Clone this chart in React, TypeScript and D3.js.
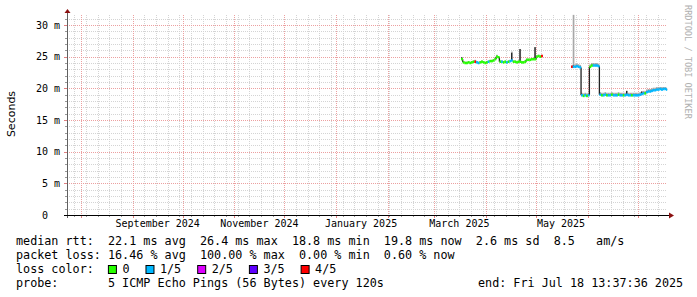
import React from 'react';
import * as d3 from 'd3';

// ---------- data ----------
const END_TIME = new Date(2025, 6, 18, 13, 37, 36);
const SPAN_DAYS = 360;
const Y_UPPER = 31.58; // ms

const yTicks = [0, 5, 10, 15, 20, 25, 30];
const yTickLabels = ['0', '5 m', '10 m', '15 m', '20 m', '25 m', '30 m'];
const monthLabelDates = [new Date(2024, 8, 1), new Date(2024, 10, 1), new Date(2025, 0, 1), new Date(2025, 2, 1), new Date(2025, 4, 1)];
const monthLabels = ['September 2024', 'November 2024', 'January 2025', 'March 2025', 'May 2025'];

// segment 1: daily from 2025-03-17
const seg1Start = new Date(2025, 2, 17);
const seg1Median = [
  24.6, 24.1, 24.0, 24.0, 24.1, 24.0, 24.1, 24.2, 24.2, 24.1, 24.0, 24.1, 24.2, 24.1, 24.0,
  24.1, 24.2, 24.3, 24.3, 24.4, 24.6, 25.0, 24.9, 24.2, 24.2, 24.1, 24.2, 24.1, 24.2, 24.3,
  24.4, 24.2, 24.2, 24.1, 24.2, 24.2, 24.1, 24.1, 24.2, 24.5, 24.5, 24.5, 24.6, 24.6, 24.6,
  25.0, 25.1, 25.0, 25.1,
];
const seg1Loss = [
  0, 0, 0, 0, 0, 0, 0, 0, 4, 1, 1, 0, 0, 0, 0,
  0, 1, 0, 0, 0, 0, 0, 0, 0, 1, 0, 0, 1, 0, 1,
  1, 0, 0, 0, 0, 0, 0, 0, 0, 0, 0, 0, 0, 0, 0,
  0, 0, 0, 4,
];
const seg1PingMax = [
  24.9, 24.3, 24.2, 24.2, 24.3, 24.2, 24.3, 24.4, 24.5, 24.3, 24.2, 24.3, 24.4, 24.3, 24.2,
  24.3, 24.4, 24.5, 24.5, 24.6, 24.8, 25.3, 25.1, 24.4, 24.4, 24.3, 24.4, 24.3, 24.4, 24.5,
  25.8, 24.4, 24.4, 24.3, 24.4, 26.2, 24.3, 24.3, 24.4, 24.7, 24.7, 24.7, 24.8, 24.8, 26.5,
  25.2, 25.3, 25.2, 25.3,
];
const seg1PingUpper = [
  24.9, 24.1, 24.0, 24.0, 24.1, 24.0, 24.1, 24.2, 24.2, 24.1, 24.0, 24.1, 24.2, 24.1, 24.0,
  24.1, 24.2, 24.3, 24.3, 24.4, 24.6, 25.0, 24.9, 24.2, 24.2, 24.1, 24.2, 24.1, 24.2, 24.3,
  25.6, 24.2, 24.2, 24.1, 24.2, 26.2, 24.1, 24.1, 24.2, 24.5, 24.5, 24.5, 24.6, 24.6, 26.5,
  25.0, 25.1, 25.0, 25.1,
];

// segment 2: daily from 2025-05-22
const seg2Start = new Date(2025, 4, 22);
const seg2Median = [
  23.4, 23.4, 23.4, 23.5, 23.4, 23.3, 18.9, 18.8, 18.9, 18.8,
  18.9, 23.4, 23.6, 23.6, 23.6, 23.6, 23.5, 19.0, 18.9, 18.9,
  19.0, 18.9, 18.9, 18.9, 19.0, 18.9, 18.9, 18.9, 19.0, 18.9,
  18.9, 18.9, 18.9, 19.0, 18.9, 18.9, 18.9, 18.9, 18.9, 18.9,
  18.9, 19.0, 19.1, 19.2, 19.2, 19.4, 19.5, 19.5, 19.6, 19.7,
  19.7, 19.8, 19.8, 19.9, 19.8, 19.9, 19.9, 19.8,
];
const seg2Loss = [
  4, 1, 1, 1, 1, 1, 1, 0, 1, 0,
  1, 0, 0, 1, 1, 1, 1, 1, 0, 1,
  1, 0, 1, 1, 0, 1, 1, 1, 0, 1,
  1, 0, 1, 1, 1, 1, 0, 1, 1, 1,
  1, 1, 1, 1, 0, 1, 1, 1, 1, 1,
  1, 1, 1, 1, 1, 1, 1, 1,
];
const seg2PingMax = [
  23.6, 31.6, 23.8, 23.9, 23.8, 23.7, 19.3, 19.2, 19.3, 19.2,
  19.3, 23.8, 24.0, 24.0, 24.0, 24.0, 23.9, 19.4, 19.3, 19.3,
  19.4, 19.3, 19.3, 19.3, 19.4, 19.3, 19.3, 19.3, 19.4, 19.3,
  19.3, 19.3, 19.3, 19.6, 19.3, 19.3, 19.3, 19.3, 19.3, 19.3,
  19.3, 19.4, 19.5, 19.6, 19.6, 19.8, 19.9, 19.9, 20.0, 20.1,
  20.1, 20.2, 20.2, 20.2, 20.2, 20.2, 20.2, 20.1,
];
const seg2PingUpper = [
  23.4, 23.6, 23.5, 23.6, 23.5, 23.4, 19.0, 18.9, 19.0, 18.9,
  19.0, 23.5, 23.7, 23.7, 23.7, 23.7, 23.6, 19.1, 19.0, 19.0,
  19.1, 19.0, 19.0, 19.0, 19.1, 19.0, 19.0, 19.0, 19.1, 19.0,
  19.0, 19.0, 19.0, 19.6, 19.0, 19.0, 19.0, 19.0, 19.0, 19.0,
  19.0, 19.1, 19.5, 19.3, 19.3, 19.5, 19.6, 19.6, 19.7, 19.8,
  19.8, 19.9, 19.9, 20.0, 19.9, 20.0, 20.0, 19.9,
];

const lossLabels = ['0', '1/5', '2/5', '3/5', '4/5'];
const lossColors = ['#26ff00', '#00b8ff', '#dd00ff', '#5e00ff', '#ff0000'];

const legendLine1 = 'median rtt:  22.1 ms avg  26.4 ms max  18.8 ms min  19.8 ms now  2.6 ms sd  8.5   am/s';
const legendLine2 = 'packet loss: 16.46 % avg  100.00 % max  0.00 % min  0.60 % now';
const legendLine3 = 'loss color:';
const legendLine4 = 'probe:       5 ICMP Echo Pings (56 Bytes) every 120s';
const legendEnd = 'end: Fri Jul 18 13:37:36 2025';

// ---------- chart ----------
type Day = { t0: Date; t1: Date; m: number; loss: number; hi: number; q: number };

function build(start: Date, med: number[], loss: number[], hi: number[], q: number[]): Day[] {
  return med.map((m, i) => {
    const t0 = d3.timeDay.offset(start, i);
    let t1 = d3.timeDay.offset(start, i + 1);
    if (t1 > END_TIME) t1 = END_TIME;
    return { t0, t1, m, loss: loss[i], hi: hi[i], q: q[i] };
  });
}

const MONO = '"DejaVu Sans Mono", monospace';
const PRE: React.CSSProperties = { whiteSpace: 'pre' };

export default function App() {
  const W = 697, H = 297;
  const x0 = 67, x1 = 667, yTop = 15, yBot = 215;
  const start = new Date(END_TIME.getTime() - SPAN_DAYS * 864e5);
  const x = d3.scaleTime().domain([start, END_TIME]).range([x0, x1]);
  const y = d3.scaleLinear().domain([0, Y_UPPER]).range([yBot, yTop]);

  const segs = [
    build(seg1Start, seg1Median, seg1Loss, seg1PingMax, seg1PingUpper),
    build(seg2Start, seg2Median, seg2Loss, seg2PingMax, seg2PingUpper),
  ];

  const monthStarts = d3.timeMonth.range(start, END_TIME);
  const sundays = d3.timeSunday.range(start, END_TIME).filter((d) => d.getDate() !== 1);
  const minorH = d3.range(1, Math.floor(Y_UPPER) + 1).filter((v) => v % 5 !== 0);
  const majorH = yTicks.filter((v) => v > 0);

  const minorColor = '#d4d4d4';
  const majorColor = '#eca0a0';
  const charW = 7.07;
  const fs = 11.75;

  let lx = 16 + 13 * charW;
  const boxes = lossLabels.map((lab, i) => {
    const bx = lx;
    const tx = bx + 14.5;
    lx = tx + lab.length * charW + 16;
    return { bx, tx, lab, col: lossColors[i] };
  });

  return (
    <svg width={W} height={H} style={{ position: 'absolute', left: 0, top: 0, background: '#fff' }}>
      <rect x={0} y={0} width={W} height={H} fill="#fff" />
      {/* grid */}
      <g strokeWidth={1} strokeDasharray="1,1" fill="none">
        {minorH.map((v) => (
          <line key={'mh' + v} x1={x0} x2={x1} y1={Math.round(y(v)) + 0.5} y2={Math.round(y(v)) + 0.5} stroke={minorColor} />
        ))}
        {sundays.map((d, i) => (
          <line key={'mv' + i} x1={Math.round(x(d)) + 0.5} x2={Math.round(x(d)) + 0.5} y1={yTop} y2={yBot} stroke={minorColor} />
        ))}
        {majorH.map((v) => (
          <line key={'Mh' + v} x1={x0} x2={x1} y1={Math.round(y(v)) + 0.5} y2={Math.round(y(v)) + 0.5} stroke={majorColor} />
        ))}
        {monthStarts.map((d, i) => (
          <line key={'Mv' + i} x1={Math.round(x(d)) + 0.5} x2={Math.round(x(d)) + 0.5} y1={yTop} y2={yBot} stroke={majorColor} />
        ))}
      </g>

      {/* smoke */}
      {segs.map((seg, si) => (
        <g key={'s' + si}>
          {seg.map((d, i) => (
            <rect key={'l' + i} x={x(d.t0)} width={x(d.t1) - x(d.t0)} y={y(d.hi)} height={Math.max(0, y(d.m) - y(d.hi))} fill="#a8a8a8" />
          ))}
          {seg.map((d, i) =>
            d.q > d.m + 0.05 ? (
              <rect key={'d' + i} x={x(d.t0)} width={Math.max(1.2, x(d.t1) - x(d.t0) - 0.4)} y={y(d.q)} height={y(d.m) - y(d.q)} fill="#222" />
            ) : null
          )}
        </g>
      ))}

      {/* median coloured by loss */}
      {segs.map((seg, si) => (
        <g key={'m' + si}>
          {seg.map((d, i) =>
            i > 0 && Math.abs(d.m - seg[i - 1].m) > 0.3 ? (
              <line key={'c' + i} x1={x(d.t0)} x2={x(d.t0)} y1={y(seg[i - 1].m)} y2={y(d.m)} stroke="#222" strokeWidth={1.3} />
            ) : null
          )}
          {seg.map((d, i) => (
            <rect key={'r' + i} x={x(d.t0)} width={x(d.t1) - x(d.t0) + 0.2} y={y(d.m) - 1.25} height={2.5} fill={lossColors[d.loss]} />
          ))}
        </g>
      ))}

      {/* axes */}
      <g>
        {sundays.map((d, i) => (
          <line key={'tx' + i} x1={Math.round(x(d)) + 0.5} x2={Math.round(x(d)) + 0.5} y1={yBot} y2={yBot + 2} stroke="#999" />
        ))}
        {monthStarts.map((d, i) => (
          <line key={'Tx' + i} x1={Math.round(x(d)) + 0.5} x2={Math.round(x(d)) + 0.5} y1={yBot} y2={yBot + 3} stroke="#e08080" />
        ))}
        {minorH.map((v) => (
          <line key={'ty' + v} x1={x0 - 2} x2={x0} y1={Math.round(y(v)) + 0.5} y2={Math.round(y(v)) + 0.5} stroke="#999" />
        ))}
        {majorH.map((v) => (
          <line key={'Ty' + v} x1={x0 - 3} x2={x0} y1={Math.round(y(v)) + 0.5} y2={Math.round(y(v)) + 0.5} stroke="#e08080" />
        ))}
        <line x1={x0 + 0.5} x2={x0 + 0.5} y1={yBot + 3} y2={yTop - 3} stroke="#606060" strokeWidth={1} />
        <line x1={x0 - 3} x2={x1 + 3} y1={yBot + 0.5} y2={yBot + 0.5} stroke="#000" strokeWidth={1} />
        <path d={`M${x0 - 2.5},${yTop - 2} L${x0 + 3.5},${yTop - 2} L${x0 + 0.5},${yTop - 6} Z`} fill="#8b1010" />
        <path d={`M${x1 + 2},${yBot - 2.5} L${x1 + 2},${yBot + 3.5} L${x1 + 7},${yBot + 0.5} Z`} fill="#8b1010" />
      </g>

      {/* axis labels */}
      <g fontFamily={MONO} fontSize={10} fill="#000">
        {yTicks.map((v, i) => (
          <text key={'yl' + v} x={v === 0 ? 48 : 60} y={y(v) + 3.6} textAnchor="end">
            {yTickLabels[i]}
          </text>
        ))}
        {monthLabelDates.map((d, i) => (
          <text key={'xl' + i} x={x(d3.timeDay.offset(d, 15))} y={227} textAnchor="middle">
            {monthLabels[i]}
          </text>
        ))}
      </g>

      <text transform="translate(15,114) rotate(-90)" textAnchor="middle" fontFamily='"DejaVu Sans", sans-serif' fontSize={11} fill="#000">
        Seconds
      </text>
      <text transform="translate(685,5) rotate(90)" fontFamily={MONO} fontSize={8.6} fill="#b0b0b0">
        RRDTOOL / TOBI OETIKER
      </text>

      {/* legend */}
      <g fontFamily={MONO} fontSize={fs} fill="#000">
        <text x={16} y={245} xmlSpace="preserve" style={PRE}>{legendLine1}</text>
        <text x={16} y={259} xmlSpace="preserve" style={PRE}>{legendLine2}</text>
        <text x={16} y={273} xmlSpace="preserve" style={PRE}>{legendLine3}</text>
        {boxes.map((b) => (
          <g key={'b' + b.lab}>
            <rect x={b.bx + 0.5} y={265.5} width={8} height={8} fill={b.col} stroke="#000" strokeWidth={1} />
            <text x={b.tx} y={273}>{b.lab}</text>
          </g>
        ))}
        <text x={16} y={287} xmlSpace="preserve" style={PRE}>{legendLine4}</text>
        <text x={478} y={287} xmlSpace="preserve" style={PRE}>{legendEnd}</text>
      </g>
    </svg>
  );
}
